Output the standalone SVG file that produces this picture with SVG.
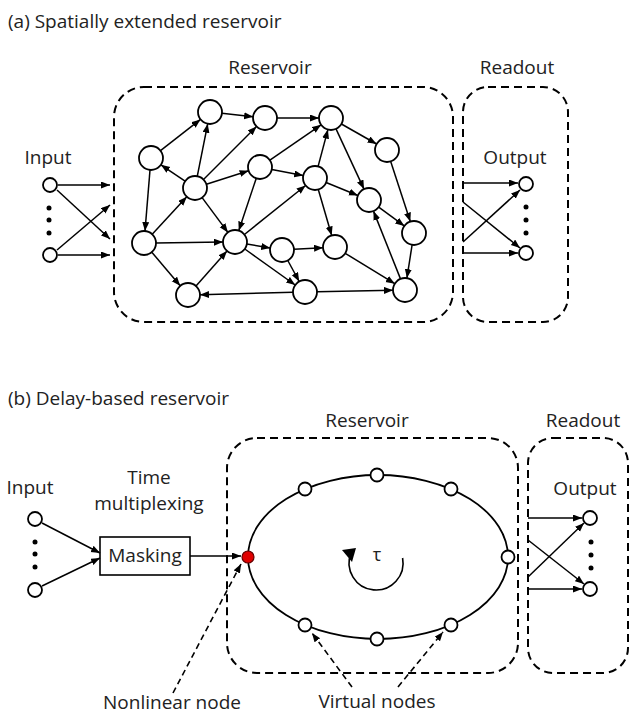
<svg xmlns="http://www.w3.org/2000/svg" width="631" height="715" viewBox="0 0 631 715">
<defs>
<marker id="ah" markerUnits="userSpaceOnUse" markerWidth="10" markerHeight="8" refX="9" refY="3.5" orient="auto">
<path d="M0,0 L9,3.5 L0,7 z" fill="#000"/>
</marker>
<style>
text{font-family:"Open Sans","Liberation Sans",sans-serif;fill:#222}
.t{font-size:19px}
.l{font-size:19px;text-anchor:middle}
.box{fill:none;stroke:#000;stroke-width:2;stroke-dasharray:8 5}
.n{fill:#fff;stroke:#000;stroke-width:1.8}
.s{fill:#fff;stroke:#000;stroke-width:1.8}
.dot{fill:#000}
.e{stroke:#000;stroke-width:1.5;fill:none;marker-end:url(#ah)}
.d{stroke:#000;stroke-width:1.6;fill:none;stroke-dasharray:6 4;marker-end:url(#ah)}
</style>
</defs>
<rect width="631" height="715" fill="#fff"/>

<!-- (a) -->
<text class="t" x="8" y="28">(a) Spatially extended reservoir</text>
<text class="l" x="270" y="74">Reservoir</text>
<text class="l" x="517" y="74">Readout</text>
<text class="l" x="48" y="164">Input</text>
<text class="l" x="515" y="164">Output</text>
<rect id="reservoirA" class="box" x="114" y="87" width="339" height="235" rx="30"/>
<rect id="readoutA" class="box" x="463" y="87" width="105" height="235" rx="25"/>

<g id="inputA">
<circle class="s" cx="50" cy="185" r="7"/>
<circle class="s" cx="50" cy="255" r="7"/>
<circle class="dot" cx="49" cy="208" r="2.5"/>
<circle class="dot" cx="49" cy="220" r="2.5"/>
<circle class="dot" cx="49" cy="233" r="2.5"/>
</g>
<g id="outputA">
<circle class="s" cx="526" cy="184" r="7"/>
<circle class="s" cx="526" cy="253" r="7"/>
<circle class="dot" cx="526" cy="207" r="2.5"/>
<circle class="dot" cx="526" cy="220" r="2.5"/>
<circle class="dot" cx="526" cy="233" r="2.5"/>
</g>

<g id="connectorsA">
<line class="e" x1="58" y1="185" x2="110" y2="185"/>
<line class="e" x1="57" y1="190" x2="110" y2="239"/>
<line class="e" x1="57" y1="250" x2="110" y2="205"/>
<line class="e" x1="58" y1="255" x2="110" y2="255"/>
<line class="e" x1="463" y1="183" x2="518" y2="183"/>
<line class="e" x1="463" y1="202" x2="520" y2="248"/>
<line class="e" x1="463" y1="242" x2="520" y2="190"/>
<line class="e" x1="463" y1="253" x2="518" y2="253"/>

<line class="e" x1="160.5" y1="150.6" x2="200.5" y2="119.4"/>
<line class="e" x1="221.9" y1="113.3" x2="253.1" y2="116.7"/>
<line class="e" x1="277" y1="118" x2="319" y2="118"/>
<line class="e" x1="341.4" y1="124" x2="376.6" y2="144"/>
<line class="e" x1="390.7" y1="161.4" x2="410.3" y2="221.6"/>
<line class="e" x1="412.1" y1="244.9" x2="406.9" y2="278.1"/>
<line class="e" x1="336" y1="128.9" x2="364" y2="189.1"/>
<line class="e" x1="318.1" y1="166.4" x2="327.9" y2="129.6"/>
<line class="e" x1="269.9" y1="160.2" x2="321.1" y2="124.8"/>
<line class="e" x1="203.5" y1="179.5" x2="256.5" y2="126.5"/>
<line class="e" x1="197.3" y1="176.2" x2="207.7" y2="123.8"/>
<line class="e" x1="185.1" y1="181.2" x2="160.9" y2="164.8"/>
<line class="e" x1="206.4" y1="184.3" x2="248.6" y2="170.7"/>
<line class="e" x1="202.1" y1="197.6" x2="227.9" y2="232.4"/>
<line class="e" x1="152.2" y1="234.2" x2="186.8" y2="196.8"/>
<line class="e" x1="150" y1="170" x2="145" y2="231"/>
<line class="e" x1="156" y1="242.9" x2="223" y2="242.1"/>
<line class="e" x1="151.8" y1="252.2" x2="180.2" y2="285.8"/>
<line class="e" x1="196" y1="286" x2="227" y2="251"/>
<line class="e" x1="293" y1="292.3" x2="200" y2="294.7"/>
<line class="e" x1="317" y1="291.8" x2="393" y2="290.2"/>
<line class="e" x1="256.2" y1="178.4" x2="238.8" y2="230.6"/>
<line class="e" x1="271.8" y1="169.4" x2="303.2" y2="175.6"/>
<line class="e" x1="244.4" y1="234.5" x2="305.6" y2="185.5"/>
<line class="e" x1="246.8" y1="244" x2="270.2" y2="248"/>
<line class="e" x1="244.8" y1="249" x2="295.2" y2="285"/>
<line class="e" x1="294" y1="249.3" x2="323" y2="247.7"/>
<line class="e" x1="287.8" y1="260.5" x2="299.2" y2="281.5"/>
<line class="e" x1="318.3" y1="189.5" x2="331.7" y2="235.5"/>
<line class="e" x1="326.1" y1="182.5" x2="357.9" y2="195.5"/>
<line class="e" x1="378.7" y1="207.1" x2="404.3" y2="225.9"/>
<line class="e" x1="400.5" y1="278.9" x2="373.5" y2="211.1"/>
<line class="e" x1="345.2" y1="253.3" x2="394.8" y2="283.7"/>
</g>

<g id="n1"><circle class="n" cx="210" cy="112" r="12"/></g>
<g id="n2"><circle class="n" cx="265" cy="118" r="12"/></g>
<g id="n3"><circle class="n" cx="331" cy="118" r="12"/></g>
<g id="n4"><circle class="n" cx="151" cy="158" r="12"/></g>
<g id="n5"><circle class="n" cx="260" cy="167" r="12"/></g>
<g id="n6"><circle class="n" cx="387" cy="150" r="12"/></g>
<g id="n7"><circle class="n" cx="195" cy="188" r="12"/></g>
<g id="n8"><circle class="n" cx="315" cy="178" r="12"/></g>
<g id="n9"><circle class="n" cx="369" cy="200" r="12"/></g>
<g id="n10"><circle class="n" cx="144" cy="243" r="12"/></g>
<g id="n11"><circle class="n" cx="235" cy="242" r="12"/></g>
<g id="n12"><circle class="n" cx="282" cy="250" r="12"/></g>
<g id="n13"><circle class="n" cx="335" cy="247" r="12"/></g>
<g id="n14"><circle class="n" cx="414" cy="233" r="12"/></g>
<g id="n15"><circle class="n" cx="188" cy="295" r="12"/></g>
<g id="n16"><circle class="n" cx="305" cy="292" r="12"/></g>
<g id="n17"><circle class="n" cx="405" cy="290" r="12"/></g>

<!-- (b) -->
<text class="t" x="8" y="405">(b) Delay-based reservoir</text>
<text class="l" x="367" y="427">Reservoir</text>
<text class="l" x="583" y="427">Readout</text>
<text class="l" x="30" y="494">Input</text>
<text class="l" x="149" y="484">Time</text>
<text class="l" x="149" y="510">multiplexing</text>
<text class="l" x="585" y="495">Output</text>
<text class="l" x="172" y="709">Nonlinear node</text>
<text class="l" x="377" y="708">Virtual nodes</text>

<rect id="reservoirB" class="box" x="227" y="438" width="291" height="235" rx="30"/>
<rect id="readoutB" class="box" x="528" y="438" width="100" height="235" rx="25"/>

<g id="inputB">
<circle class="s" cx="35" cy="519" r="7"/>
<circle class="s" cx="35" cy="590" r="7"/>
<circle class="dot" cx="35" cy="542" r="2.5"/>
<circle class="dot" cx="35" cy="554" r="2.5"/>
<circle class="dot" cx="35" cy="567" r="2.5"/>
</g>
<g id="masking">
<rect x="100" y="537" width="90" height="38" fill="#fff" stroke="#000" stroke-width="1.6"/>
<text class="l" x="145" y="562">Masking</text>
</g>
<g id="outputB">
<circle class="s" cx="590" cy="518" r="7"/>
<circle class="s" cx="590" cy="589" r="7"/>
<circle class="dot" cx="591" cy="542" r="2.5"/>
<circle class="dot" cx="591" cy="555" r="2.5"/>
<circle class="dot" cx="591" cy="568" r="2.5"/>
</g>

<g id="connectorsB">
<line class="e" x1="42" y1="523" x2="100" y2="553"/>
<line class="e" x1="42" y1="586" x2="100" y2="558"/>
<line class="e" x1="190" y1="556" x2="241" y2="556"/>
<line class="e" x1="528" y1="518" x2="582" y2="518"/>
<line class="e" x1="528" y1="540" x2="584" y2="584"/>
<line class="e" x1="528" y1="577" x2="584" y2="523"/>
<line class="e" x1="528" y1="589" x2="582" y2="589"/>
<line class="d" x1="173" y1="693" x2="241" y2="564"/>
<line class="d" x1="352" y1="687" x2="312" y2="633"/>
<line class="d" x1="398" y1="687" x2="443" y2="632"/>
</g>

<g id="loop">
<ellipse cx="378" cy="557" rx="130" ry="82" fill="none" stroke="#000" stroke-width="1.8"/>
<path d="M402.6,558 A27,27 0 1 1 351,553" fill="none" stroke="#000" stroke-width="1.6"/>
<polygon points="342,550 356,548 352,562" fill="#000"/>
<text x="377" y="561" style="font-size:18px;text-anchor:middle">τ</text>
</g>

<g id="nonlinear"><circle cx="248" cy="557" r="6" fill="#e00000" stroke="#600" stroke-width="1.2"/></g>
<g id="v1"><circle class="s" cx="305" cy="489" r="6.5"/></g>
<g id="v2"><circle class="s" cx="377" cy="475" r="6.5"/></g>
<g id="v3"><circle class="s" cx="451" cy="489" r="6.5"/></g>
<g id="v4"><circle class="s" cx="508" cy="557" r="6.5"/></g>
<g id="v5"><circle class="s" cx="305" cy="625" r="6.5"/></g>
<g id="v6"><circle class="s" cx="377" cy="639" r="6.5"/></g>
<g id="v7"><circle class="s" cx="451" cy="625" r="6.5"/></g>
</svg>
